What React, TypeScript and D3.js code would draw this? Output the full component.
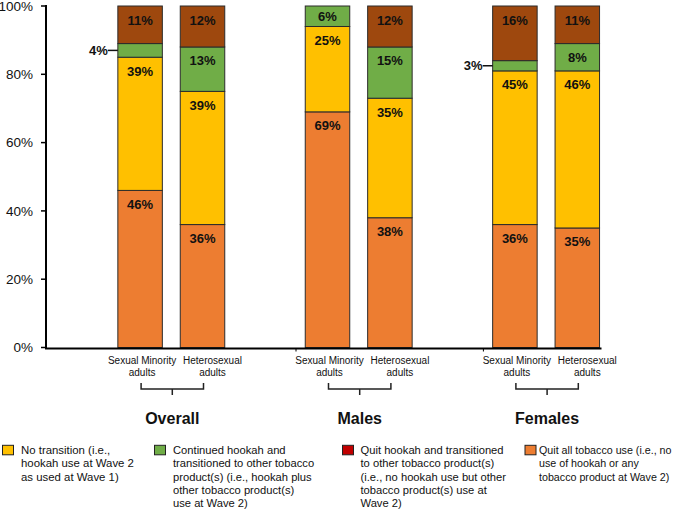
import React from "react";
import * as d3 from "d3";

const groups = ["Overall", "Males", "Females"];
const subgroups = ["Sexual Minority|adults", "Heterosexual|adults"];
const seriesKeys = ["quitAll", "noTransition", "continued", "quitHookah"];
// values per bar (group-major), percent
const quitAll = [46, 36, 69, 38, 36, 35];
const noTransition = [39, 39, 25, 35, 45, 46];
const continued = [4, 13, 6, 15, 3, 8];
const quitHookah = [11, 12, 0, 12, 16, 11];
const yTicks = [0, 20, 40, 60, 80, 100];

const barColors: Record<string, string> = {
  quitAll: "#ED7D31",
  noTransition: "#FFC000",
  continued: "#70AD47",
  quitHookah: "#9E480E",
};

const legendItems = [
  { color: "#FFC000", lines: ["No transition (i.e.,", "hookah use at Wave 2", "as used at Wave 1)"] },
  {
    color: "#70AD47",
    lines: ["Continued hookah and", "transitioned to other tobacco", "product(s) (i.e., hookah plus", "other tobacco product(s)", "use at Wave 2)"],
  },
  {
    color: "#C00000",
    lines: ["Quit hookah and transitioned", "to other tobacco product(s)", "(i.e., no hookah use but other", "tobacco product(s) use at", "Wave 2)"],
  },
  { color: "#ED7D31", lines: ["Quit all tobacco use (i.e., no", "use of hookah or any", "tobacco product at Wave 2)"] },
];
const legendX = [2.5, 154.5, 342.5, 525];
const legendTextX = [21, 173, 360.5, 539];
const legendFont = [11.4, 11.2, 11.2, 10.7];

const FONT = "'Liberation Sans', Arial, Helvetica, sans-serif";

export default function App() {
  const W = 685, H = 510;
  const y = d3.scaleLinear().domain([0, 100]).range([347.5, 6]);
  const xg = d3.scaleBand<string>().domain(groups).range([77.6, 639.8]).paddingInner(0).paddingOuter(0);
  const xs = d3
    .scaleBand<string>()
    .domain(subgroups)
    .range([40.25, 147.15])
    .paddingInner(0.287)
    .paddingOuter(0);
  const labelShift = [2, 10];

  const rows = quitAll.map((_, i) => ({
    g: groups[Math.floor(i / 2)],
    s: subgroups[i % 2],
    quitAll: quitAll[i],
    noTransition: noTransition[i],
    continued: continued[i],
    quitHookah: quitHookah[i],
  }));
  const stacked = d3.stack<any>().keys(seriesKeys)(rows);

  const axisY = 348.5;
  const axisLeft = 46;

  return (
    <svg
      width={W}
      height={H}
      style={{ position: "absolute", left: 0, top: 0, background: "#fff" }}
      fontFamily={FONT}
    >
      {/* bars */}
      {stacked.map((layer) =>
        layer.map((d, i) => {
          const r = rows[i];
          const x0 = (xg(r.g) as number) + (xs(r.s) as number);
          const bw = xs.bandwidth();
          const top = y(d[1]);
          const bot = y(d[0]);
          const h = bot - top;
          const v = d[1] - d[0];
          if (v <= 0) return null;
          return (
            <rect
              key={layer.key + i}
              x={x0}
              y={top}
              width={bw}
              height={h}
              fill={barColors[layer.key]}
              stroke="#2b2b2b"
              strokeWidth={1}
            />
          );
        })
      )}
      {/* labels */}
      {stacked.map((layer) =>
        layer.map((d, i) => {
          const r = rows[i];
          const x0 = (xg(r.g) as number) + (xs(r.s) as number);
          const bw = xs.bandwidth();
          const top = y(d[1]);
          const bot = y(d[0]);
          const v = d[1] - d[0];
          if (v <= 0) return null;
          const mid = (top + bot) / 2;
          if (v < 5) {
            return (
              <g key={"l" + layer.key + i}>
                <text
                  x={x0 - 10}
                  y={mid + 4.7}
                  textAnchor="end"
                  fontSize={13}
                  fontWeight="bold"
                  fill="#111"
                >
                  {v}%
                </text>
                <line x1={x0 - 10} x2={x0} y1={mid} y2={mid} stroke="#111" strokeWidth={1.5} />
              </g>
            );
          }
          const by = Math.min(top + 18.5, mid + 4.7);
          return (
            <text
              key={"l" + layer.key + i}
              x={x0 + bw / 2}
              y={by}
              textAnchor="middle"
              fontSize={13}
              fontWeight="bold"
              fill="#111"
            >
              {v}%
            </text>
          );
        })
      )}
      {/* y axis */}
      <line x1={axisLeft} x2={axisLeft} y1={y(100) - 1} y2={axisY} stroke="#000" strokeWidth={2} />
      {yTicks.map((t) => (
        <g key={t}>
          <line x1={axisLeft - 5} x2={axisLeft} y1={y(t)} y2={y(t)} stroke="#000" strokeWidth={1.5} />
          <text x={33} y={y(t) + 4.8} textAnchor="end" fontSize={13.5} fill="#111">
            {t}%
          </text>
        </g>
      ))}
      {/* x axis */}
      <line x1={axisLeft - 1} x2={601.5} y1={axisY} y2={axisY} stroke="#000" strokeWidth={2} />
      {groups.slice(1).map((g) => (
        <line
          key={"t" + g}
          x1={(xg(g) as number) + 31}
          x2={(xg(g) as number) + 31}
          y1={axisY}
          y2={axisY + 3}
          stroke="#000"
          strokeWidth={1}
        />
      ))}
      {/* category labels and brackets */}
      {groups.map((g) => {
        const gx = xg(g) as number;
        const centers = subgroups.map((s) => gx + (xs(s) as number) + xs.bandwidth() / 2);
        const gc = (centers[0] + centers[1]) / 2;
        return (
          <g key={"g" + g}>
            {subgroups.map((s, j) => (
              <text key={s} textAnchor="middle" fontSize={10} fill="#111">
                {s.split("|").map((ln, k) => (
                  <tspan key={k} x={centers[j] + labelShift[j]} y={363.5 + k * 12}>
                    {ln}
                  </tspan>
                ))}
              </text>
            ))}
            <path
              d={`M${centers[0] + 1},383 V389 H${centers[1] + 1} V383 M${gc + 1},389 V395`}
              fill="none"
              stroke="#222"
              strokeWidth={1.5}
            />
            <text x={gc + 1} y={423.5} textAnchor="middle" fontSize={16} fontWeight="bold" fill="#111">
              {g}
            </text>
          </g>
        );
      })}
      {/* legend */}
      {legendItems.map((it, i) => (
        <g key={"leg" + i}>
          <rect x={legendX[i]} y={445.3} width={11} height={9.5} fill={it.color} stroke="#222" strokeWidth={1} />
          <text fontSize={legendFont[i]} fill="#111">
            {it.lines.map((ln, k) => (
              <tspan key={k} x={legendTextX[i]} y={454 + k * 13.3}>
                {ln}
              </tspan>
            ))}
          </text>
        </g>
      ))}
    </svg>
  );
}
